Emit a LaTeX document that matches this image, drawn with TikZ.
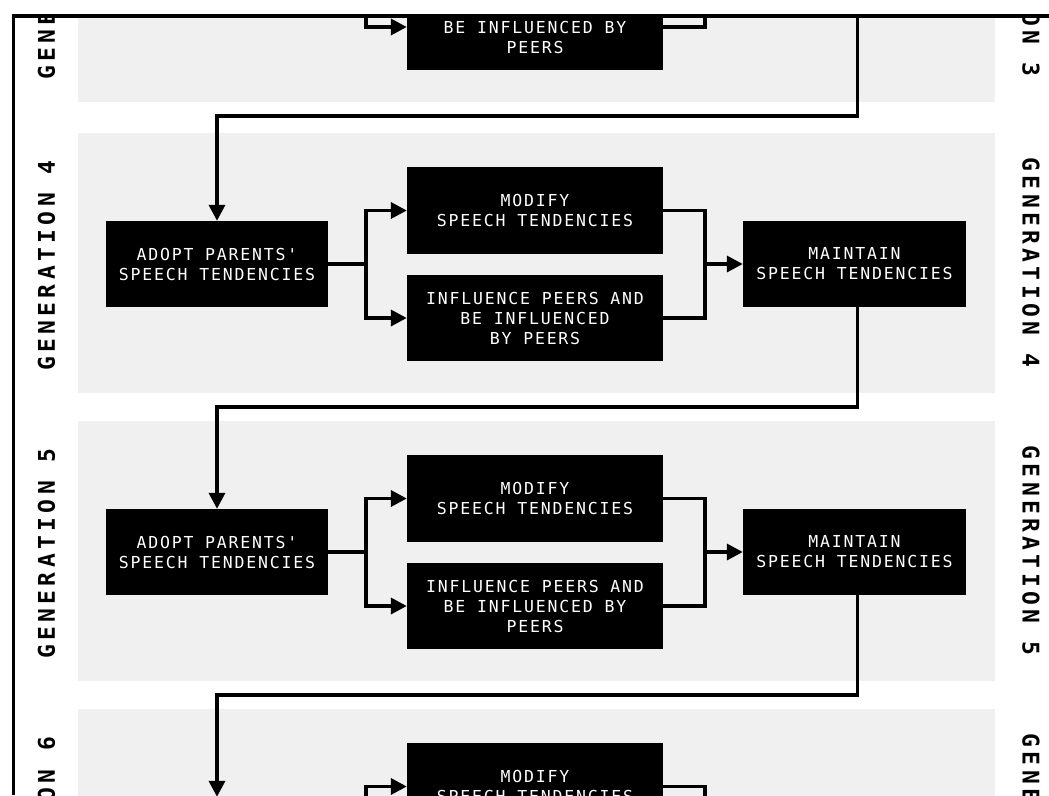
\documentclass[tikz,border=0pt]{standalone}
\usepackage{fontspec}
\usetikzlibrary{arrows.meta,calc}
\newfontfamily\boxfont[LetterSpace=11]{DejaVu Sans Mono}
\newfontfamily\genfont[LetterSpace=19]{DejaVu Sans Mono}
\definecolor{panelgray}{HTML}{F0F0F0}
\tikzset{
  box/.style={fill=black, text=white, minimum height=86pt, align=center, inner sep=0pt,
    font=\boxfont\fontsize{16.5}{20}\selectfont},
  conn/.style={line width=3.5pt, line join=miter},
  arr/.style={conn, -{Triangle[length=16pt,width=16pt]}},
  genlab/.style={inner sep=0pt, font=\genfont\bfseries\fontsize{23}{23}\selectfont},
  panelbox/.style={fill=panelgray, draw=none},
  frameline/.style={line width=4pt},
}
\begin{document}
\begin{tikzpicture}[x=1pt,y=-1pt]
\useasboundingbox (0,0) rectangle (1049,795);
\begin{scope}
\clip (0,15.5) rectangle (1049,795);
\foreach \g/\dy/\inf in {3/-291/{INFLUENCE PEERS AND\\BE INFLUENCED BY\\PEERS},
                          4/0/{INFLUENCE PEERS AND\\BE INFLUENCED\\BY PEERS},
                          5/288/{INFLUENCE PEERS AND\\BE INFLUENCED BY\\PEERS},
                          6/576/{INFLUENCE PEERS AND\\BE INFLUENCED BY\\PEERS}} {
  \fill[panelbox] (78,133+\dy) rectangle (995,393+\dy);
  \node[genlab, rotate=90] (L\g) at (46.5,266+\dy) {GENERATION \g};
  \node[genlab, rotate=-90] (R\g) at (1031,262.5+\dy) {GENERATION \g};
  \node[box, minimum width=222pt] (a\g) at (217,264+\dy) {ADOPT PARENTS'\\SPEECH TENDENCIES};
  \node[box, minimum width=256pt, minimum height=87pt] (m\g) at (535,210.5+\dy) {MODIFY\\SPEECH TENDENCIES};
  \node[box, minimum width=256pt] (i\g) at (535,318+\dy) {\inf};
  \node[box, minimum width=223pt] (t\g) at (854.5,264+\dy) {MAINTAIN\\SPEECH TENDENCIES};
  \draw[conn] (a\g.east) -- ++(38,0) coordinate (s\g);
  \draw[arr] (s\g) |- (m\g.west);
  \draw[arr] (s\g) |- (i\g.west);
  \coordinate (j\g) at (705,264+\dy);
  \draw[conn] (m\g.east) -| (j\g) |- (i\g.east);
  \draw[arr] (j\g) -- (t\g.west);
}
\foreach \g/\n in {3/4,4/5,5/6} {
  \draw[arr] ([xshift=3pt]t\g.south) -- ++(0,100) -| (a\n.north);
}
\end{scope}
\draw[frameline] (11.75,15.5) -- (1049,15.5);
\draw[line width=3.5pt] (13.5,15.5) -- (13.5,795);
\end{tikzpicture}
\end{document}
